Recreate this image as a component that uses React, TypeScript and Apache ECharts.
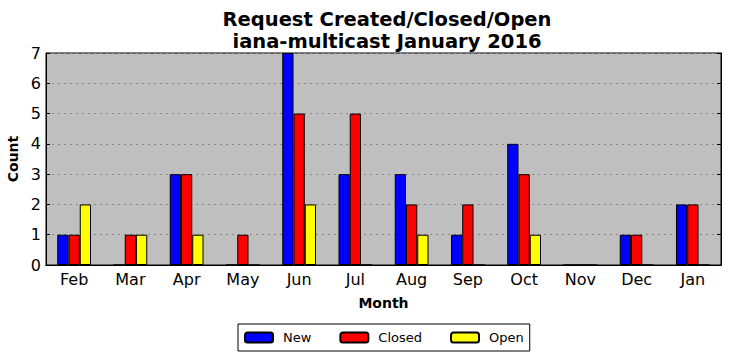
import React, { useEffect, useRef } from "react";
import * as echarts from "echarts";

const months = ["Feb", "Mar", "Apr", "May", "Jun", "Jul", "Aug", "Sep", "Oct", "Nov", "Dec", "Jan"];
const newValues = [1, 0, 3, 0, 7, 3, 3, 1, 4, 0, 1, 2];
const closedValues = [1, 1, 3, 1, 5, 5, 2, 2, 3, 0, 1, 2];
const openValues = [2, 1, 1, 0, 2, 0, 1, 0, 1, 0, 0, 0];

const FONT = "DejaVu Sans";

export default function App() {
  const ref = useRef<HTMLDivElement>(null);
  useEffect(() => {
    const chart = echarts.init(ref.current!, null, { renderer: "svg" });
    const barStyle = (color: string) => ({ color, borderColor: "#000", borderWidth: 1 });
    const mk = (name: string, data: number[], color: string) => ({
      name,
      type: "bar",
      data,
      barWidth: 11.25,
      barGap: "0%",
      itemStyle: barStyle(color),
      emphasis: { disabled: true },
    });
    chart.setOption({
      animation: false,
      textStyle: { fontFamily: FONT },
      title: {
        text: "Request Created/Closed/Open\niana-multicast January 2016",
        left: 382,
        textAlign: "center",
        top: 3,
        textStyle: { fontFamily: FONT, fontSize: 19.5, fontWeight: "bold", color: "#000", lineHeight: 22 },
      },
      legend: {
        bottom: 10,
        left: 238,
        itemWidth: 28,
        itemHeight: 10,
        itemGap: 28,
        padding: [7, 6, 7, 6],
        borderColor: "#000",
        borderWidth: 1,
        borderRadius: 0,
        textStyle: { fontFamily: FONT, fontSize: 13, color: "#000", padding: [0, 0, 0, 5] },
        data: ["New", "Closed", "Open"],
      },
      grid: { left: 46, right: 10, top: 53, bottom: 96, outerBoundsMode: "none", containLabel: false, show: true, backgroundColor: "#bfbfbf", borderColor: "#000", borderWidth: 1 },
      xAxis: [
        {
          type: "category",
          data: months,
          name: "Month",
          nameLocation: "middle",
          nameGap: 31,
          nameTextStyle: { fontFamily: FONT, fontSize: 14, fontWeight: "bold", color: "#000" },
          axisLine: { lineStyle: { color: "#000" } },
          axisTick: { inside: true, alignWithLabel: true, length: 4, lineStyle: { color: "#000" } },
          axisLabel: { fontFamily: FONT, fontSize: 16, color: "#000", margin: 6 },
        },
        {
          type: "category",
          data: months,
          position: "top",
          axisLine: { lineStyle: { color: "#000" } },
          axisTick: { inside: true, alignWithLabel: true, length: 4, lineStyle: { color: "#000" } },
          axisLabel: { show: false },
        },
      ],
      yAxis: [
        {
          type: "value",
          min: 0,
          max: 7,
          interval: 1,
          name: "Count",
          nameLocation: "middle",
          nameGap: 19,
          nameTextStyle: { fontFamily: FONT, fontSize: 14, fontWeight: "bold", color: "#000" },
          axisLine: { show: true, lineStyle: { color: "#000" } },
          axisTick: { show: true, inside: true, length: 4, lineStyle: { color: "#000" } },
          axisLabel: { fontFamily: FONT, fontSize: 16, color: "#000", margin: 5 },
          splitLine: { show: true, lineStyle: { color: "#888", type: [2, 4], width: 1 } },
        },
        {
          type: "value",
          min: 0,
          max: 7,
          interval: 1,
          position: "right",
          axisLine: { show: true, lineStyle: { color: "#000" } },
          axisTick: { show: true, inside: true, length: 4, lineStyle: { color: "#000" } },
          axisLabel: { show: false },
          splitLine: { show: false },
        },
      ],
      series: [
        mk("New", newValues, "#0000ff"),
        mk("Closed", closedValues, "#ff0000"),
        mk("Open", openValues, "#ffff00"),
      ],
    });
    return () => chart.dispose();
  }, []);
  return <div ref={ref} style={{ width: 731, height: 361, position: "absolute", left: 0, top: 0 }} />;
}
